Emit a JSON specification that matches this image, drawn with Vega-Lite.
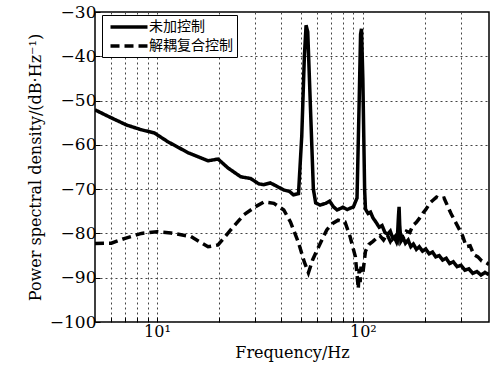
{
  "$schema": "https://vega.github.io/schema/vega-lite/v6.json",
  "autosize": "none",
  "width": 394,
  "height": 310,
  "padding": {"left": 95, "top": 12, "right": 10, "bottom": 45},
  "background": "white",
  "config": {
    "view": {"stroke": "black", "strokeWidth": 1.5},
    "legend": {
      "orient": "none",
      "legendX": 7,
      "legendY": 3,
      "strokeColor": "black",
      "fillColor": "white",
      "padding": 4,
      "symbolType": "M-3,0H3",
      "symbolSize": 152,
      "symbolOffset": 15,
      "symbolStrokeWidth": 3.5,
      "symbolStrokeColor": "black",
      "symbolFillColor": "transparent",
      "labelFont": "Noto Sans CJK SC",
      "labelFontSize": 14,
      "labelColor": "black",
      "labelOffset": 12,
      "rowPadding": 4,
      "title": null
    }
  },
  "data": {
    "values": [
      {"f": 5, "db": -52.1, "s": "未加控制"},
      {"f": 6, "db": -53.9, "s": "未加控制"},
      {"f": 7.1, "db": -55.5, "s": "未加控制"},
      {"f": 8.4, "db": -56.6, "s": "未加控制"},
      {"f": 9.7, "db": -57.3, "s": "未加控制"},
      {"f": 11.3, "db": -59.3, "s": "未加控制"},
      {"f": 14.2, "db": -61.8, "s": "未加控制"},
      {"f": 17.7, "db": -63.6, "s": "未加控制"},
      {"f": 19.8, "db": -63.2, "s": "未加控制"},
      {"f": 22.1, "db": -65.2, "s": "未加控制"},
      {"f": 25.5, "db": -67.2, "s": "未加控制"},
      {"f": 28.5, "db": -67.6, "s": "未加控制"},
      {"f": 31.2, "db": -68.8, "s": "未加控制"},
      {"f": 33, "db": -69, "s": "未加控制"},
      {"f": 35.5, "db": -68.6, "s": "未加控制"},
      {"f": 37.7, "db": -69.2, "s": "未加控制"},
      {"f": 41.3, "db": -70.2, "s": "未加控制"},
      {"f": 44, "db": -70.5, "s": "未加控制"},
      {"f": 46, "db": -71.3, "s": "未加控制"},
      {"f": 48.7, "db": -71, "s": "未加控制"},
      {"f": 50.5, "db": -58, "s": "未加控制"},
      {"f": 52, "db": -40, "s": "未加控制"},
      {"f": 53, "db": -33, "s": "未加控制"},
      {"f": 54, "db": -34.5, "s": "未加控制"},
      {"f": 55.5, "db": -50, "s": "未加控制"},
      {"f": 57.5, "db": -70, "s": "未加控制"},
      {"f": 59, "db": -73.1, "s": "未加控制"},
      {"f": 62, "db": -73.6, "s": "未加控制"},
      {"f": 66, "db": -73.2, "s": "未加控制"},
      {"f": 69, "db": -72.7, "s": "未加控制"},
      {"f": 72, "db": -74, "s": "未加控制"},
      {"f": 75, "db": -74.7, "s": "未加控制"},
      {"f": 80, "db": -74.1, "s": "未加控制"},
      {"f": 84, "db": -74.6, "s": "未加控制"},
      {"f": 90, "db": -74, "s": "未加控制"},
      {"f": 93.7, "db": -72, "s": "未加控制"},
      {"f": 96, "db": -50, "s": "未加控制"},
      {"f": 97.5, "db": -35, "s": "未加控制"},
      {"f": 98.5, "db": -33.8, "s": "未加控制"},
      {"f": 100, "db": -45, "s": "未加控制"},
      {"f": 102, "db": -70, "s": "未加控制"},
      {"f": 103, "db": -74.5, "s": "未加控制"},
      {"f": 106, "db": -75.5, "s": "未加控制"},
      {"f": 109, "db": -75.2, "s": "未加控制"},
      {"f": 112, "db": -76.5, "s": "未加控制"},
      {"f": 116, "db": -77.5, "s": "未加控制"},
      {"f": 120, "db": -78.6, "s": "未加控制"},
      {"f": 124, "db": -78.2, "s": "未加控制"},
      {"f": 128, "db": -79.8, "s": "未加控制"},
      {"f": 132, "db": -80.2, "s": "未加控制"},
      {"f": 136, "db": -79.5, "s": "未加控制"},
      {"f": 140, "db": -81.2, "s": "未加控制"},
      {"f": 144, "db": -80.6, "s": "未加控制"},
      {"f": 147, "db": -81.4, "s": "未加控制"},
      {"f": 149, "db": -76, "s": "未加控制"},
      {"f": 150, "db": -74, "s": "未加控制"},
      {"f": 151, "db": -78, "s": "未加控制"},
      {"f": 153, "db": -81.8, "s": "未加控制"},
      {"f": 157, "db": -81, "s": "未加控制"},
      {"f": 161, "db": -82.2, "s": "未加控制"},
      {"f": 166, "db": -81.5, "s": "未加控制"},
      {"f": 171, "db": -83, "s": "未加控制"},
      {"f": 176, "db": -82.4, "s": "未加控制"},
      {"f": 182, "db": -83.6, "s": "未加控制"},
      {"f": 188, "db": -83, "s": "未加控制"},
      {"f": 195, "db": -84, "s": "未加控制"},
      {"f": 202, "db": -83.5, "s": "未加控制"},
      {"f": 210, "db": -84.6, "s": "未加控制"},
      {"f": 218, "db": -84.2, "s": "未加控制"},
      {"f": 226, "db": -85.3, "s": "未加控制"},
      {"f": 235, "db": -85, "s": "未加控制"},
      {"f": 244, "db": -86, "s": "未加控制"},
      {"f": 254, "db": -85.6, "s": "未加控制"},
      {"f": 264, "db": -86.8, "s": "未加控制"},
      {"f": 275, "db": -86.4, "s": "未加控制"},
      {"f": 287, "db": -87.5, "s": "未加控制"},
      {"f": 300, "db": -87.2, "s": "未加控制"},
      {"f": 313, "db": -88.3, "s": "未加控制"},
      {"f": 327, "db": -88, "s": "未加控制"},
      {"f": 342, "db": -89, "s": "未加控制"},
      {"f": 358, "db": -88.6, "s": "未加控制"},
      {"f": 375, "db": -89.4, "s": "未加控制"},
      {"f": 392, "db": -88.8, "s": "未加控制"},
      {"f": 410, "db": -89.3, "s": "未加控制"},

      {"f": 5, "db": -82.3, "s": "解耦复合控制"},
      {"f": 6, "db": -82.2, "s": "解耦复合控制"},
      {"f": 7, "db": -81.1, "s": "解耦复合控制"},
      {"f": 8.4, "db": -80, "s": "解耦复合控制"},
      {"f": 10, "db": -79.6, "s": "解耦复合控制"},
      {"f": 11.7, "db": -79.9, "s": "解耦复合控制"},
      {"f": 14.6, "db": -80.7, "s": "解耦复合控制"},
      {"f": 17.7, "db": -83, "s": "解耦复合控制"},
      {"f": 19.8, "db": -82.6, "s": "解耦复合控制"},
      {"f": 22.8, "db": -79.2, "s": "解耦复合控制"},
      {"f": 26.4, "db": -75.8, "s": "解耦复合控制"},
      {"f": 30, "db": -74, "s": "解耦复合控制"},
      {"f": 33.1, "db": -72.9, "s": "解耦复合控制"},
      {"f": 37, "db": -73.2, "s": "解耦复合控制"},
      {"f": 41.3, "db": -74.7, "s": "解耦复合控制"},
      {"f": 44.5, "db": -77.4, "s": "解耦复合控制"},
      {"f": 48.7, "db": -82.1, "s": "解耦复合控制"},
      {"f": 52, "db": -86.5, "s": "解耦复合控制"},
      {"f": 54.4, "db": -88.9, "s": "解耦复合控制"},
      {"f": 57, "db": -86, "s": "解耦复合控制"},
      {"f": 60, "db": -83.7, "s": "解耦复合控制"},
      {"f": 66.8, "db": -79.2, "s": "解耦复合控制"},
      {"f": 71, "db": -77.8, "s": "解耦复合控制"},
      {"f": 75.8, "db": -77, "s": "解耦复合控制"},
      {"f": 81.9, "db": -77.4, "s": "解耦复合控制"},
      {"f": 86.8, "db": -80.8, "s": "解耦复合控制"},
      {"f": 92, "db": -85.3, "s": "解耦复合控制"},
      {"f": 94, "db": -90, "s": "解耦复合控制"},
      {"f": 95, "db": -92.5, "s": "解耦复合控制"},
      {"f": 96, "db": -88, "s": "解耦复合控制"},
      {"f": 97, "db": -91, "s": "解耦复合控制"},
      {"f": 98, "db": -87.5, "s": "解耦复合控制"},
      {"f": 100, "db": -89, "s": "解耦复合控制"},
      {"f": 103, "db": -84, "s": "解耦复合控制"},
      {"f": 107, "db": -82.5, "s": "解耦复合控制"},
      {"f": 112, "db": -81.8, "s": "解耦复合控制"},
      {"f": 117, "db": -81, "s": "解耦复合控制"},
      {"f": 121, "db": -80.5, "s": "解耦复合控制"},
      {"f": 126, "db": -81.5, "s": "解耦复合控制"},
      {"f": 131, "db": -80.2, "s": "解耦复合控制"},
      {"f": 136, "db": -81.8, "s": "解耦复合控制"},
      {"f": 141, "db": -80.5, "s": "解耦复合控制"},
      {"f": 146, "db": -82, "s": "解耦复合控制"},
      {"f": 151, "db": -80, "s": "解耦复合控制"},
      {"f": 157, "db": -81, "s": "解耦复合控制"},
      {"f": 163, "db": -79.5, "s": "解耦复合控制"},
      {"f": 169, "db": -79.8, "s": "解耦复合控制"},
      {"f": 175, "db": -78.2, "s": "解耦复合控制"},
      {"f": 182, "db": -77.5, "s": "解耦复合控制"},
      {"f": 189, "db": -76.5, "s": "解耦复合控制"},
      {"f": 196, "db": -75.4, "s": "解耦复合控制"},
      {"f": 203, "db": -74.5, "s": "解耦复合控制"},
      {"f": 211, "db": -73.2, "s": "解耦复合控制"},
      {"f": 219, "db": -72.5, "s": "解耦复合控制"},
      {"f": 228, "db": -71.8, "s": "解耦复合控制"},
      {"f": 238, "db": -72.2, "s": "解耦复合控制"},
      {"f": 248, "db": -72, "s": "解耦复合控制"},
      {"f": 258, "db": -73.8, "s": "解耦复合控制"},
      {"f": 268, "db": -75.5, "s": "解耦复合控制"},
      {"f": 280, "db": -77.2, "s": "解耦复合控制"},
      {"f": 292, "db": -78.8, "s": "解耦复合控制"},
      {"f": 305, "db": -80.5, "s": "解耦复合控制"},
      {"f": 318, "db": -83, "s": "解耦复合控制"},
      {"f": 332, "db": -82.8, "s": "解耦复合控制"},
      {"f": 346, "db": -84.8, "s": "解耦复合控制"},
      {"f": 362, "db": -85.3, "s": "解耦复合控制"},
      {"f": 378, "db": -86.2, "s": "解耦复合控制"},
      {"f": 394, "db": -86.5, "s": "解耦复合控制"},
      {"f": 410, "db": -87, "s": "解耦复合控制"}
    ]
  },
  "mark": {"type": "line", "color": "black", "strokeWidth": 3.5, "clip": true},
  "encoding": {
    "x": {
      "field": "f",
      "type": "quantitative",
      "scale": {"type": "log", "domain": [5, 410], "nice": false},
      "axis": {
        "title": "Frequency/Hz",
        "values": [6, 7, 8, 9, 10, 20, 30, 40, 50, 60, 70, 80, 90, 100, 200, 300],
        "labelExpr": "datum.value == 10 ? '10¹' : datum.value == 100 ? '10²' : ''",
        "domain": false,
        "grid": true,
        "gridColor": "#444",
        "gridDash": [2, 3],
        "gridWidth": 1,
        "tickColor": "black",
        "tickSize": -5,
        "labelFont": "DejaVu Serif",
        "labelFontSize": 16,
        "labelColor": "black",
        "labelPadding": 6,
        "titleFont": "DejaVu Serif",
        "titleFontSize": 16,
        "titleFontWeight": "normal",
        "titleColor": "black",
        "titlePadding": 5
      }
    },
    "y": {
      "field": "db",
      "type": "quantitative",
      "scale": {"domain": [-100, -30], "nice": false},
      "axis": {
        "title": "Power spectral density/(dB·Hz⁻¹)",
        "values": [-100, -90, -80, -70, -60, -50, -40, -30],
        "labelExpr": "replace(datum.label, '-', '−')",
        "domain": false,
        "grid": true,
        "gridColor": "#444",
        "gridDash": [2, 3],
        "gridWidth": 1,
        "tickColor": "black",
        "tickSize": -5,
        "labelFont": "DejaVu Serif",
        "labelFontSize": 17,
        "labelColor": "black",
        "labelPadding": 4,
        "titleFont": "DejaVu Serif",
        "titleFontSize": 16,
        "titleFontWeight": "normal",
        "titleColor": "black",
        "titlePadding": 6
      }
    },
    "strokeDash": {
      "field": "s",
      "type": "nominal",
      "sort": ["未加控制", "解耦复合控制"],
      "scale": {"domain": ["未加控制", "解耦复合控制"], "range": [[1, 0], [9, 5]]},
      "legend": {"title": null}
    },
    "order": {"field": "f", "type": "quantitative"}
  }
}
